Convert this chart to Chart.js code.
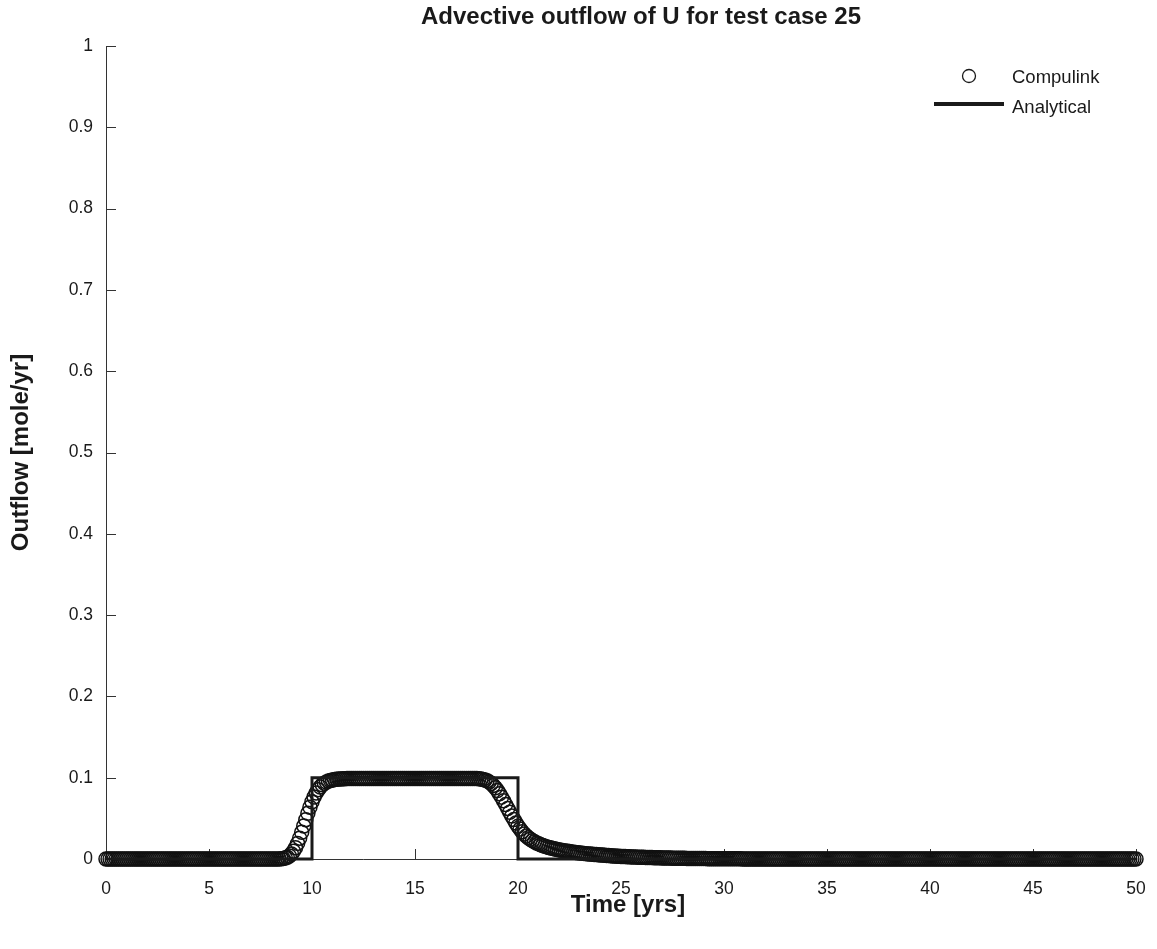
<!DOCTYPE html>
<html>
<head>
<meta charset="utf-8">
<script src="https://cdn.jsdelivr.net/npm/chart.js@4.4.1/dist/chart.umd.min.js"></script>
<style>
  html, body { margin: 0; padding: 0; background: #ffffff; }
  #wrap { width: 1157px; height: 949px; position: relative; }
</style>
</head>
<body>
<div id="wrap"><canvas id="chart" width="1157" height="949"></canvas></div>
<script>
// Sample times of the Compulink run [yrs]
const timeYears = [
  0,0.1,0.2,0.3,0.4,0.5,0.6,0.7,0.8,0.9,
  1,1.1,1.2,1.3,1.4,1.5,1.6,1.7,1.8,1.9,
  2,2.1,2.2,2.3,2.4,2.5,2.6,2.7,2.8,2.9,
  3,3.1,3.2,3.3,3.4,3.5,3.6,3.7,3.8,3.9,
  4,4.1,4.2,4.3,4.4,4.5,4.6,4.7,4.8,4.9,
  5,5.1,5.2,5.3,5.4,5.5,5.6,5.7,5.8,5.9,
  6,6.1,6.2,6.3,6.4,6.5,6.6,6.7,6.8,6.9,
  7,7.1,7.2,7.3,7.4,7.5,7.6,7.7,7.8,7.9,
  8,8.1,8.2,8.3,8.4,8.5,8.6,8.7,8.8,8.9,
  9,9.1,9.2,9.3,9.4,9.5,9.6,9.7,9.8,9.9,
  10,10.1,10.2,10.3,10.4,10.5,10.6,10.7,10.8,10.9,
  11,11.1,11.2,11.3,11.4,11.5,11.6,11.7,11.8,11.9,
  12,12.1,12.2,12.3,12.4,12.5,12.6,12.7,12.8,12.9,
  13,13.1,13.2,13.3,13.4,13.5,13.6,13.7,13.8,13.9,
  14,14.1,14.2,14.3,14.4,14.5,14.6,14.7,14.8,14.9,
  15,15.1,15.2,15.3,15.4,15.5,15.6,15.7,15.8,15.9,
  16,16.1,16.2,16.3,16.4,16.5,16.6,16.7,16.8,16.9,
  17,17.1,17.2,17.3,17.4,17.5,17.6,17.7,17.8,17.9,
  18,18.1,18.2,18.3,18.4,18.5,18.6,18.7,18.8,18.9,
  19,19.1,19.2,19.3,19.4,19.5,19.6,19.7,19.8,19.9,
  20,20.1,20.2,20.3,20.4,20.5,20.6,20.7,20.8,20.9,
  21,21.1,21.2,21.3,21.4,21.5,21.6,21.7,21.8,21.9,
  22,22.1,22.2,22.3,22.4,22.5,22.6,22.7,22.8,22.9,
  23,23.1,23.2,23.3,23.4,23.5,23.6,23.7,23.8,23.9,
  24,24.1,24.2,24.3,24.4,24.5,24.6,24.7,24.8,24.9,
  25,25.1,25.2,25.3,25.4,25.5,25.6,25.7,25.8,25.9,
  26,26.1,26.2,26.3,26.4,26.5,26.6,26.7,26.8,26.9,
  27,27.1,27.2,27.3,27.4,27.5,27.6,27.7,27.8,27.9,
  28,28.1,28.2,28.3,28.4,28.5,28.6,28.7,28.8,28.9,
  29,29.1,29.2,29.3,29.4,29.5,29.6,29.7,29.8,29.9,
  30,30.1,30.2,30.3,30.4,30.5,30.6,30.7,30.8,30.9,
  31,31.1,31.2,31.3,31.4,31.5,31.6,31.7,31.8,31.9,
  32,32.1,32.2,32.3,32.4,32.5,32.6,32.7,32.8,32.9,
  33,33.1,33.2,33.3,33.4,33.5,33.6,33.7,33.8,33.9,
  34,34.1,34.2,34.3,34.4,34.5,34.6,34.7,34.8,34.9,
  35,35.1,35.2,35.3,35.4,35.5,35.6,35.7,35.8,35.9,
  36,36.1,36.2,36.3,36.4,36.5,36.6,36.7,36.8,36.9,
  37,37.1,37.2,37.3,37.4,37.5,37.6,37.7,37.8,37.9,
  38,38.1,38.2,38.3,38.4,38.5,38.6,38.7,38.8,38.9,
  39,39.1,39.2,39.3,39.4,39.5,39.6,39.7,39.8,39.9,
  40,40.1,40.2,40.3,40.4,40.5,40.6,40.7,40.8,40.9,
  41,41.1,41.2,41.3,41.4,41.5,41.6,41.7,41.8,41.9,
  42,42.1,42.2,42.3,42.4,42.5,42.6,42.7,42.8,42.9,
  43,43.1,43.2,43.3,43.4,43.5,43.6,43.7,43.8,43.9,
  44,44.1,44.2,44.3,44.4,44.5,44.6,44.7,44.8,44.9,
  45,45.1,45.2,45.3,45.4,45.5,45.6,45.7,45.8,45.9,
  46,46.1,46.2,46.3,46.4,46.5,46.6,46.7,46.8,46.9,
  47,47.1,47.2,47.3,47.4,47.5,47.6,47.7,47.8,47.9,
  48,48.1,48.2,48.3,48.4,48.5,48.6,48.7,48.8,48.9,
  49,49.1,49.2,49.3,49.4,49.5,49.6,49.7,49.8,49.9,
  50
];

// Compulink outflow of U [mole/yr], one value per sample time
const compulinkOutflow = [
  0,0,0,0,0,0,0,0,0,0,
  0,0,0,0,0,0,0,0,0,0,
  0,0,0,0,0,0,0,0,0,0,
  0,0,0,0,0,0,0,0,0,0,
  0,0,0,0,0,0,0,0,0,0,
  0,0,0,0,0,0,0,0,0,0,
  0,0,0,0,0,0,0,0,0,0,
  0,0,0,0,0,0,0,0,0,0,
  0,0,0,0,0,0.0003,0.0006,0.0012,0.0022,0.0038,
  0.0062,0.0095,0.0138,0.0192,0.0256,0.0328,0.0405,0.0484,0.0562,0.0636,
  0.0703,0.0762,0.0812,0.0853,0.0886,0.0912,0.0932,0.0947,0.0958,0.0966,
  0.0972,0.0977,0.0980,0.0983,0.0985,0.0987,0.0988,0.0989,0.0990,0.0990,
  0.099,0.099,0.099,0.099,0.099,0.099,0.099,0.099,0.099,0.099,
  0.099,0.099,0.099,0.099,0.099,0.099,0.099,0.099,0.099,0.099,
  0.099,0.099,0.099,0.099,0.099,0.099,0.099,0.099,0.099,0.099,
  0.099,0.099,0.099,0.099,0.099,0.099,0.099,0.099,0.099,0.099,
  0.099,0.099,0.099,0.099,0.099,0.099,0.099,0.099,0.099,0.099,
  0.099,0.099,0.099,0.099,0.099,0.099,0.099,0.099,0.099,0.099,
  0.0989,0.0987,0.0984,0.0979,0.0972,0.0962,0.0948,0.0929,0.0905,0.0876,
  0.0842,0.0803,0.0761,0.0716,0.0669,0.0622,0.0575,0.0529,0.0485,0.0443,
  0.0403,0.0368,0.0336,0.0308,0.0284,0.0262,0.0243,0.0226,0.0211,0.0198,
  0.0187,0.0176,0.0166,0.0157,0.0149,0.0141,0.0134,0.0128,0.0122,0.0117,
  0.0112,0.0107,0.0103,0.0099,0.0095,0.0091,0.0087,0.0084,0.0081,0.0077,
  0.0074,0.0071,0.0069,0.0066,0.0063,0.0061,0.0058,0.0056,0.0054,0.0052,
  0.0050,0.0048,0.0046,0.0044,0.0042,0.0040,0.0038,0.0037,0.0035,0.0034,
  0.0032,0.0031,0.0030,0.0028,0.0027,0.0026,0.0025,0.0024,0.0023,0.0022,
  0.0021,0.0020,0.0019,0.0018,0.0017,0.0017,0.0016,0.0015,0.0014,0.0014,
  0.0013,0.0012,0.0012,0.0011,0.0011,0.0010,0.0010,0.0009,0.0009,0.0008,
  0.0008,0.0008,0.0007,0.0007,0.0007,0.0006,0.0006,0.0006,0.0005,0.0005,
  0.0005,0.0005,0.0004,0.0004,0.0004,0.0004,0.0003,0.0003,0.0003,0.0003,
  0.0003,0.0003,0.0002,0.0002,0.0002,0.0002,0.0002,0.0002,0.0002,0.0001,
  0.0001,0.0001,0.0001,0.0001,0.0001,0.0001,0.0001,0,0,0,
  0,0,0,0,0,0,0,0,0,0,
  0,0,0,0,0,0,0,0,0,0,
  0,0,0,0,0,0,0,0,0,0,
  0,0,0,0,0,0,0,0,0,0,
  0,0,0,0,0,0,0,0,0,0,
  0,0,0,0,0,0,0,0,0,0,
  0,0,0,0,0,0,0,0,0,0,
  0,0,0,0,0,0,0,0,0,0,
  0,0,0,0,0,0,0,0,0,0,
  0,0,0,0,0,0,0,0,0,0,
  0,0,0,0,0,0,0,0,0,0,
  0,0,0,0,0,0,0,0,0,0,
  0,0,0,0,0,0,0,0,0,0,
  0,0,0,0,0,0,0,0,0,0,
  0,0,0,0,0,0,0,0,0,0,
  0,0,0,0,0,0,0,0,0,0,
  0,0,0,0,0,0,0,0,0,0,
  0,0,0,0,0,0,0,0,0,0,
  0
];

// Analytical square pulse: 0.1 mole/yr between 10 and 20 yrs
const analyticalTime = [0, 10, 10, 20, 20, 50];
const analyticalOutflow = [0, 0, 0.1, 0.1, 0, 0];

const xTickValues = [0, 5, 10, 15, 20, 25, 30, 35, 40, 45, 50];
const yTickValues = [0, 0.1, 0.2, 0.3, 0.4, 0.5, 0.6, 0.7, 0.8, 0.9, 1];

const chartTitle = 'Advective outflow of U for test case 25';
const xAxisTitle = 'Time [yrs]';
const yAxisTitle = 'Outflow [mole/yr]';
const seriesNames = ['Compulink', 'Analytical'];

const INK = '#1a1a1a';
const FONT = '"Liberation Sans", Arial, Helvetica, sans-serif';

const compulinkPoints = timeYears.map((t, i) => ({ x: t, y: compulinkOutflow[i] }));
const analyticalPoints = analyticalTime.map((t, i) => ({ x: t, y: analyticalOutflow[i] }));

// Inward tick marks, titles and the legend box
const decorations = {
  id: 'decorations',
  beforeDatasetsDraw(chart) {
    const { ctx, chartArea, scales } = chart;
    ctx.save();
    ctx.strokeStyle = '#333';
    ctx.lineWidth = 1;
    ctx.beginPath();
    xTickValues.forEach(v => {
      const x = Math.round(scales.x.getPixelForValue(v)) + 0.5;
      ctx.moveTo(x, chartArea.bottom);
      ctx.lineTo(x, chartArea.bottom - 10);
    });
    yTickValues.forEach(v => {
      const y = Math.round(scales.y.getPixelForValue(v)) + 0.5;
      ctx.moveTo(chartArea.left, y);
      ctx.lineTo(chartArea.left + 10, y);
    });
    ctx.stroke();
    ctx.restore();
  },
  afterDraw(chart) {
    const { ctx, chartArea } = chart;
    ctx.save();
    ctx.fillStyle = INK;
    ctx.textAlign = 'center';
    ctx.textBaseline = 'middle';

    ctx.font = 'bold 24px ' + FONT;
    ctx.fillText(chartTitle, 641, 17);

    ctx.font = 'bold 24px ' + FONT;
    ctx.fillText(xAxisTitle, 628, 905);

    ctx.save();
    ctx.translate(21, (chartArea.top + chartArea.bottom) / 2);
    ctx.rotate(-Math.PI / 2);
    ctx.fillText(yAxisTitle, 0, 0);
    ctx.restore();

    // legend
    ctx.font = '18.5px ' + FONT;
    ctx.textAlign = 'left';
    ctx.strokeStyle = INK;
    ctx.lineWidth = 1.3;
    ctx.beginPath();
    ctx.arc(969, 76, 6.5, 0, Math.PI * 2);
    ctx.stroke();
    ctx.fillText(seriesNames[0], 1012, 78);

    ctx.lineWidth = 4;
    ctx.beginPath();
    ctx.moveTo(934, 104);
    ctx.lineTo(1004, 104);
    ctx.stroke();
    ctx.fillText(seriesNames[1], 1012, 108);
    ctx.restore();
  }
};

new Chart(document.getElementById('chart'), {
  type: 'line',
  data: {
    datasets: [
      {
        label: seriesNames[1],
        data: analyticalPoints,
        borderColor: INK,
        borderWidth: 3,
        pointRadius: 0,
        fill: false,
        tension: 0,
        clip: false,
        order: 0
      },
      {
        label: seriesNames[0],
        data: compulinkPoints,
        showLine: false,
        pointStyle: 'circle',
        pointRadius: 7,
        pointBorderWidth: 1.5,
        pointBorderColor: '#111',
        pointBackgroundColor: 'rgba(0,0,0,0)',
        clip: false,
        order: 1
      }
    ]
  },
  options: {
    responsive: false,
    animation: false,
    devicePixelRatio: 1,
    layout: { padding: { top: 46, right: 21, left: 0, bottom: 0 } },
    plugins: {
      legend: { display: false },
      title: { display: false },
      tooltip: { enabled: false }
    },
    scales: {
      x: {
        type: 'linear',
        min: 0,
        max: 50,
        afterFit(scale) {
          scale.height = 90;
          scale.paddingLeft = 0;
          scale.paddingRight = 0;
        },
        afterBuildTicks(scale) { scale.ticks = xTickValues.map(v => ({ value: v })); },
        grid: { display: false, drawTicks: false },
        border: { display: true, color: '#333', width: 1 },
        ticks: {
          color: INK,
          font: { family: FONT, size: 17.5 },
          padding: 20,
          maxRotation: 0,
          callback: v => String(v)
        }
      },
      y: {
        type: 'linear',
        min: 0,
        max: 1,
        afterFit(scale) {
          scale.width = 106;
          scale.paddingTop = 0;
          scale.paddingBottom = 0;
        },
        afterBuildTicks(scale) { scale.ticks = yTickValues.map(v => ({ value: v })); },
        grid: { display: false, drawTicks: false },
        border: { display: true, color: '#333', width: 1 },
        ticks: {
          color: INK,
          font: { family: FONT, size: 17.5 },
          padding: 13,
          callback: v => String(Math.round(v * 10) / 10)
        }
      }
    }
  },
  plugins: [decorations]
});
</script>
</body>
</html>
